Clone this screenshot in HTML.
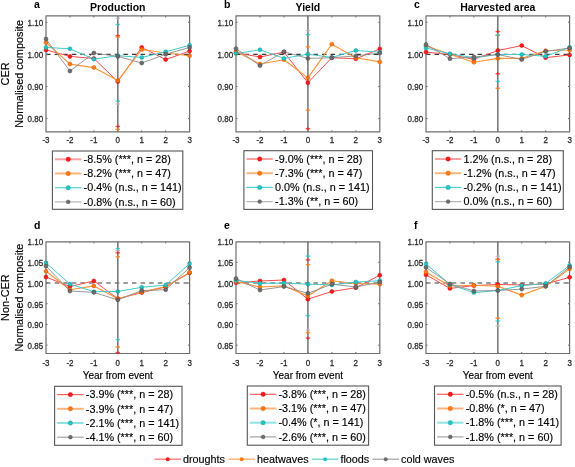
<!DOCTYPE html>
<html><head><meta charset="utf-8"><style>
html,body{margin:0;padding:0;background:#fff;width:575px;height:467px;overflow:hidden}
svg{display:block;font-family:"Liberation Sans", sans-serif;filter:blur(0.35px)}
</style></head><body>
<svg width="575" height="467" viewBox="0 0 575 467">
<rect width="575" height="467" fill="#fff"/>
<rect x="46.0" y="15.9" width="143.60" height="116.00" fill="none" stroke="#6e6e6e" stroke-width="1.2" stroke-linejoin="round"/>
<line x1="69.93" y1="15.9" x2="69.93" y2="17.5" stroke="#6e6e6e" stroke-width="1"/>
<line x1="69.93" y1="131.9" x2="69.93" y2="130.3" stroke="#6e6e6e" stroke-width="1"/>
<line x1="93.87" y1="15.9" x2="93.87" y2="17.5" stroke="#6e6e6e" stroke-width="1"/>
<line x1="93.87" y1="131.9" x2="93.87" y2="130.3" stroke="#6e6e6e" stroke-width="1"/>
<line x1="117.80" y1="15.9" x2="117.80" y2="17.5" stroke="#6e6e6e" stroke-width="1"/>
<line x1="117.80" y1="131.9" x2="117.80" y2="130.3" stroke="#6e6e6e" stroke-width="1"/>
<line x1="141.73" y1="15.9" x2="141.73" y2="17.5" stroke="#6e6e6e" stroke-width="1"/>
<line x1="141.73" y1="131.9" x2="141.73" y2="130.3" stroke="#6e6e6e" stroke-width="1"/>
<line x1="165.67" y1="15.9" x2="165.67" y2="17.5" stroke="#6e6e6e" stroke-width="1"/>
<line x1="165.67" y1="131.9" x2="165.67" y2="130.3" stroke="#6e6e6e" stroke-width="1"/>
<line x1="46.0" y1="54.40" x2="189.6" y2="54.40" stroke="#383838" stroke-width="1.2" stroke-dasharray="4.5 4.1"/>
<line x1="117.80" y1="15.9" x2="117.80" y2="131.9" stroke="#848484" stroke-width="1.5"/>
<polyline points="46.00,49.9 69.93,56.4 93.87,58.5 117.80,81.6 141.73,47.4 165.67,59.6 189.60,51.1" fill="none" stroke="#ff4a4a" stroke-width="1.0" stroke-linejoin="round"/>
<polyline points="46.00,42.5 69.93,64.1 93.87,67.6 117.80,80.6 141.73,49.5 165.67,53.0 189.60,55.7" fill="none" stroke="#ff9438" stroke-width="1.15" stroke-linejoin="round"/>
<polyline points="46.00,47.4 69.93,48.8 93.87,59.2 117.80,55.7 141.73,57.4 165.67,51.8 189.60,45.3" fill="none" stroke="#40cccc" stroke-width="1.0" stroke-linejoin="round"/>
<polyline points="46.00,39.0 69.93,71.0 93.87,53.0 117.80,56.4 141.73,63.0 165.67,54.3 189.60,47.4" fill="none" stroke="#8c8c8c" stroke-width="0.9" stroke-linejoin="round"/>
<circle cx="46.00" cy="49.9" r="2.0" fill="#ff1a1a" stroke="#d00000" stroke-width="0.5"/>
<circle cx="69.93" cy="56.4" r="2.0" fill="#ff1a1a" stroke="#d00000" stroke-width="0.5"/>
<circle cx="93.87" cy="58.5" r="2.0" fill="#ff1a1a" stroke="#d00000" stroke-width="0.5"/>
<circle cx="117.80" cy="81.6" r="2.0" fill="#ff1a1a" stroke="#d00000" stroke-width="0.5"/>
<circle cx="141.73" cy="47.4" r="2.0" fill="#ff1a1a" stroke="#d00000" stroke-width="0.5"/>
<circle cx="165.67" cy="59.6" r="2.0" fill="#ff1a1a" stroke="#d00000" stroke-width="0.5"/>
<circle cx="189.60" cy="51.1" r="2.0" fill="#ff1a1a" stroke="#d00000" stroke-width="0.5"/>
<circle cx="46.00" cy="42.5" r="2.0" fill="#ff7a10" stroke="#e05800" stroke-width="0.5"/>
<circle cx="69.93" cy="64.1" r="2.0" fill="#ff7a10" stroke="#e05800" stroke-width="0.5"/>
<circle cx="93.87" cy="67.6" r="2.0" fill="#ff7a10" stroke="#e05800" stroke-width="0.5"/>
<circle cx="117.80" cy="80.6" r="2.0" fill="#ff7a10" stroke="#e05800" stroke-width="0.5"/>
<circle cx="141.73" cy="49.5" r="2.0" fill="#ff7a10" stroke="#e05800" stroke-width="0.5"/>
<circle cx="165.67" cy="53.0" r="2.0" fill="#ff7a10" stroke="#e05800" stroke-width="0.5"/>
<circle cx="189.60" cy="55.7" r="2.0" fill="#ff7a10" stroke="#e05800" stroke-width="0.5"/>
<circle cx="46.00" cy="47.4" r="2.0" fill="#22c4c4" stroke="#12a0a0" stroke-width="0.5"/>
<circle cx="69.93" cy="48.8" r="2.0" fill="#22c4c4" stroke="#12a0a0" stroke-width="0.5"/>
<circle cx="93.87" cy="59.2" r="2.0" fill="#22c4c4" stroke="#12a0a0" stroke-width="0.5"/>
<circle cx="117.80" cy="55.7" r="2.0" fill="#22c4c4" stroke="#12a0a0" stroke-width="0.5"/>
<circle cx="141.73" cy="57.4" r="2.0" fill="#22c4c4" stroke="#12a0a0" stroke-width="0.5"/>
<circle cx="165.67" cy="51.8" r="2.0" fill="#22c4c4" stroke="#12a0a0" stroke-width="0.5"/>
<circle cx="189.60" cy="45.3" r="2.0" fill="#22c4c4" stroke="#12a0a0" stroke-width="0.5"/>
<circle cx="46.00" cy="39.0" r="2.0" fill="#6e6e6e" stroke="#454545" stroke-width="0.5"/>
<circle cx="69.93" cy="71.0" r="2.0" fill="#6e6e6e" stroke="#454545" stroke-width="0.5"/>
<circle cx="93.87" cy="53.0" r="2.0" fill="#6e6e6e" stroke="#454545" stroke-width="0.5"/>
<circle cx="117.80" cy="56.4" r="2.0" fill="#6e6e6e" stroke="#454545" stroke-width="0.5"/>
<circle cx="141.73" cy="63.0" r="2.0" fill="#6e6e6e" stroke="#454545" stroke-width="0.5"/>
<circle cx="165.67" cy="54.3" r="2.0" fill="#6e6e6e" stroke="#454545" stroke-width="0.5"/>
<circle cx="189.60" cy="47.4" r="2.0" fill="#6e6e6e" stroke="#454545" stroke-width="0.5"/>
<line x1="117.80" y1="15.9" x2="117.80" y2="131.9" stroke="#404040" stroke-width="1.0" opacity="0.3"/>
<line x1="115.50" y1="35.7" x2="120.10" y2="35.7" stroke="#ff1a1a" stroke-width="1.4" opacity="0.75"/>
<line x1="117.80" y1="34.1" x2="117.80" y2="37.300000000000004" stroke="#ff1a1a" stroke-width="1.3" opacity="0.6"/>
<line x1="115.50" y1="37.0" x2="120.10" y2="37.0" stroke="#ff7a10" stroke-width="1.4" opacity="0.75"/>
<line x1="117.80" y1="35.4" x2="117.80" y2="38.6" stroke="#ff7a10" stroke-width="1.3" opacity="0.6"/>
<line x1="115.50" y1="24.5" x2="120.10" y2="24.5" stroke="#22c4c4" stroke-width="1.4" opacity="0.75"/>
<line x1="117.80" y1="22.9" x2="117.80" y2="26.1" stroke="#22c4c4" stroke-width="1.3" opacity="0.6"/>
<line x1="115.50" y1="18.4" x2="120.10" y2="18.4" stroke="#b4b4b4" stroke-width="1.4" opacity="0.75"/>
<line x1="117.80" y1="16.799999999999997" x2="117.80" y2="20.0" stroke="#b4b4b4" stroke-width="1.3" opacity="0.6"/>
<line x1="115.50" y1="101.1" x2="120.10" y2="101.1" stroke="#22c4c4" stroke-width="1.4" opacity="0.75"/>
<line x1="117.80" y1="99.5" x2="117.80" y2="102.69999999999999" stroke="#22c4c4" stroke-width="1.3" opacity="0.6"/>
<line x1="115.50" y1="104.0" x2="120.10" y2="104.0" stroke="#b4b4b4" stroke-width="1.4" opacity="0.75"/>
<line x1="117.80" y1="102.4" x2="117.80" y2="105.6" stroke="#b4b4b4" stroke-width="1.3" opacity="0.6"/>
<line x1="115.50" y1="126.4" x2="120.10" y2="126.4" stroke="#ff1a1a" stroke-width="1.4" opacity="0.75"/>
<line x1="117.80" y1="124.80000000000001" x2="117.80" y2="128.0" stroke="#ff1a1a" stroke-width="1.3" opacity="0.6"/>
<line x1="115.50" y1="129.3" x2="120.10" y2="129.3" stroke="#ff7a10" stroke-width="1.4" opacity="0.75"/>
<line x1="117.80" y1="127.70000000000002" x2="117.80" y2="130.9" stroke="#ff7a10" stroke-width="1.3" opacity="0.6"/>
<line x1="46.0" y1="22.30" x2="47.6" y2="22.30" stroke="#6e6e6e" stroke-width="1"/>
<line x1="189.6" y1="22.30" x2="188.0" y2="22.30" stroke="#6e6e6e" stroke-width="1"/>
<text transform="translate(43.10 26.08) scale(0.85 1)" font-size="9.4" text-anchor="end" fill="#2a2a2a" stroke="#2a2a2a" stroke-width="0.3">1.10</text>
<line x1="46.0" y1="54.40" x2="47.6" y2="54.40" stroke="#6e6e6e" stroke-width="1"/>
<line x1="189.6" y1="54.40" x2="188.0" y2="54.40" stroke="#6e6e6e" stroke-width="1"/>
<text transform="translate(43.10 58.18) scale(0.85 1)" font-size="9.4" text-anchor="end" fill="#2a2a2a" stroke="#2a2a2a" stroke-width="0.3">1.00</text>
<line x1="46.0" y1="86.50" x2="47.6" y2="86.50" stroke="#6e6e6e" stroke-width="1"/>
<line x1="189.6" y1="86.50" x2="188.0" y2="86.50" stroke="#6e6e6e" stroke-width="1"/>
<text transform="translate(43.10 90.28) scale(0.85 1)" font-size="9.4" text-anchor="end" fill="#2a2a2a" stroke="#2a2a2a" stroke-width="0.3">0.90</text>
<line x1="46.0" y1="118.60" x2="47.6" y2="118.60" stroke="#6e6e6e" stroke-width="1"/>
<line x1="189.6" y1="118.60" x2="188.0" y2="118.60" stroke="#6e6e6e" stroke-width="1"/>
<text transform="translate(43.10 122.38) scale(0.85 1)" font-size="9.4" text-anchor="end" fill="#2a2a2a" stroke="#2a2a2a" stroke-width="0.3">0.80</text>
<text transform="translate(46.00 143.08) scale(0.85 1)" font-size="9.4" text-anchor="middle" fill="#2a2a2a" stroke="#2a2a2a" stroke-width="0.3">-3</text>
<text transform="translate(69.93 143.08) scale(0.85 1)" font-size="9.4" text-anchor="middle" fill="#2a2a2a" stroke="#2a2a2a" stroke-width="0.3">-2</text>
<text transform="translate(93.87 143.08) scale(0.85 1)" font-size="9.4" text-anchor="middle" fill="#2a2a2a" stroke="#2a2a2a" stroke-width="0.3">-1</text>
<text transform="translate(117.80 143.08) scale(0.85 1)" font-size="9.4" text-anchor="middle" fill="#2a2a2a" stroke="#2a2a2a" stroke-width="0.3">0</text>
<text transform="translate(141.73 143.08) scale(0.85 1)" font-size="9.4" text-anchor="middle" fill="#2a2a2a" stroke="#2a2a2a" stroke-width="0.3">1</text>
<text transform="translate(165.67 143.08) scale(0.85 1)" font-size="9.4" text-anchor="middle" fill="#2a2a2a" stroke="#2a2a2a" stroke-width="0.3">2</text>
<text transform="translate(189.60 143.08) scale(0.85 1)" font-size="9.4" text-anchor="middle" fill="#2a2a2a" stroke="#2a2a2a" stroke-width="0.3">3</text>
<text x="23.0" y="73.9" font-size="10.9" text-anchor="middle" font-weight="normal" fill="#000" stroke="#000" stroke-width="0.15" transform="rotate(-90 23.0 73.9)">Normalised composite</text>
<text x="9.4" y="73.9" font-size="10.9" text-anchor="middle" font-weight="normal" fill="#000" stroke="#000" stroke-width="0.15" transform="rotate(-90 9.4 73.9)">CER</text>
<text x="34.0" y="8.4" font-size="10.5" text-anchor="start" font-weight="bold" fill="#000">a</text>
<text x="117.8" y="11.3" font-size="10.5" text-anchor="middle" font-weight="bold" fill="#000">Production</text>
<rect x="52.4" y="151.0" width="130.40" height="58.30" fill="#fff" stroke="#555" stroke-width="1.1"/>
<line x1="55.0" y1="159.30" x2="81.4" y2="159.30" stroke="#ffa0a0" stroke-width="2.0"/>
<circle cx="68.2" cy="159.30" r="2.2" fill="#ff1a1a" stroke="#d00000" stroke-width="0.4"/>
<text x="83.6" y="163.0" font-size="10.8" text-anchor="start" font-weight="normal" fill="#000" stroke="#000" stroke-width="0.15">-8.5% (***, n = 28)</text>
<line x1="55.0" y1="173.50" x2="81.4" y2="173.50" stroke="#ffb47c" stroke-width="2.0"/>
<circle cx="68.2" cy="173.50" r="2.2" fill="#ff7a10" stroke="#e05800" stroke-width="0.4"/>
<text x="83.6" y="177.2" font-size="10.8" text-anchor="start" font-weight="normal" fill="#000" stroke="#000" stroke-width="0.15">-8.2% (***, n = 47)</text>
<line x1="55.0" y1="187.70" x2="81.4" y2="187.70" stroke="#50d2d2" stroke-width="1.2"/>
<circle cx="68.2" cy="187.70" r="2.2" fill="#22c4c4" stroke="#12a0a0" stroke-width="0.4"/>
<text x="83.6" y="191.4" font-size="10.8" text-anchor="start" font-weight="normal" fill="#000" stroke="#000" stroke-width="0.15">-0.4% (n.s., n = 141)</text>
<line x1="55.0" y1="201.90" x2="81.4" y2="201.90" stroke="#b4b4b4" stroke-width="1.2"/>
<circle cx="68.2" cy="201.90" r="1.9" fill="#6e6e6e" stroke="#454545" stroke-width="0.4"/>
<text x="83.6" y="205.6" font-size="10.8" text-anchor="start" font-weight="normal" fill="#000" stroke="#000" stroke-width="0.15">-0.8% (n.s., n = 60)</text>
<rect x="236.0" y="15.9" width="143.80" height="116.00" fill="none" stroke="#6e6e6e" stroke-width="1.2" stroke-linejoin="round"/>
<line x1="259.97" y1="15.9" x2="259.97" y2="17.5" stroke="#6e6e6e" stroke-width="1"/>
<line x1="259.97" y1="131.9" x2="259.97" y2="130.3" stroke="#6e6e6e" stroke-width="1"/>
<line x1="283.93" y1="15.9" x2="283.93" y2="17.5" stroke="#6e6e6e" stroke-width="1"/>
<line x1="283.93" y1="131.9" x2="283.93" y2="130.3" stroke="#6e6e6e" stroke-width="1"/>
<line x1="307.90" y1="15.9" x2="307.90" y2="17.5" stroke="#6e6e6e" stroke-width="1"/>
<line x1="307.90" y1="131.9" x2="307.90" y2="130.3" stroke="#6e6e6e" stroke-width="1"/>
<line x1="331.87" y1="15.9" x2="331.87" y2="17.5" stroke="#6e6e6e" stroke-width="1"/>
<line x1="331.87" y1="131.9" x2="331.87" y2="130.3" stroke="#6e6e6e" stroke-width="1"/>
<line x1="355.83" y1="15.9" x2="355.83" y2="17.5" stroke="#6e6e6e" stroke-width="1"/>
<line x1="355.83" y1="131.9" x2="355.83" y2="130.3" stroke="#6e6e6e" stroke-width="1"/>
<line x1="236.0" y1="54.40" x2="379.8" y2="54.40" stroke="#383838" stroke-width="1.2" stroke-dasharray="4.5 4.1"/>
<line x1="307.90" y1="15.9" x2="307.90" y2="131.9" stroke="#848484" stroke-width="1.5"/>
<polyline points="236.00,52.8 259.97,57.0 283.93,52.1 307.90,82.7 331.87,57.7 355.83,58.8 379.80,48.9" fill="none" stroke="#ff4a4a" stroke-width="1.0" stroke-linejoin="round"/>
<polyline points="236.00,51.4 259.97,64.0 283.93,59.8 307.90,77.9 331.87,44.2 355.83,57.7 379.80,61.9" fill="none" stroke="#ff9438" stroke-width="1.15" stroke-linejoin="round"/>
<polyline points="236.00,53.5 259.97,49.8 283.93,58.4 307.90,54.2 331.87,57.4 355.83,50.5 379.80,52.1" fill="none" stroke="#40cccc" stroke-width="1.0" stroke-linejoin="round"/>
<polyline points="236.00,48.7 259.97,65.6 283.93,51.7 307.90,58.4 331.87,57.7 355.83,55.9 379.80,53.0" fill="none" stroke="#8c8c8c" stroke-width="0.9" stroke-linejoin="round"/>
<circle cx="236.00" cy="52.8" r="2.0" fill="#ff1a1a" stroke="#d00000" stroke-width="0.5"/>
<circle cx="259.97" cy="57.0" r="2.0" fill="#ff1a1a" stroke="#d00000" stroke-width="0.5"/>
<circle cx="283.93" cy="52.1" r="2.0" fill="#ff1a1a" stroke="#d00000" stroke-width="0.5"/>
<circle cx="307.90" cy="82.7" r="2.0" fill="#ff1a1a" stroke="#d00000" stroke-width="0.5"/>
<circle cx="331.87" cy="57.7" r="2.0" fill="#ff1a1a" stroke="#d00000" stroke-width="0.5"/>
<circle cx="355.83" cy="58.8" r="2.0" fill="#ff1a1a" stroke="#d00000" stroke-width="0.5"/>
<circle cx="379.80" cy="48.9" r="2.0" fill="#ff1a1a" stroke="#d00000" stroke-width="0.5"/>
<circle cx="236.00" cy="51.4" r="2.0" fill="#ff7a10" stroke="#e05800" stroke-width="0.5"/>
<circle cx="259.97" cy="64.0" r="2.0" fill="#ff7a10" stroke="#e05800" stroke-width="0.5"/>
<circle cx="283.93" cy="59.8" r="2.0" fill="#ff7a10" stroke="#e05800" stroke-width="0.5"/>
<circle cx="307.90" cy="77.9" r="2.0" fill="#ff7a10" stroke="#e05800" stroke-width="0.5"/>
<circle cx="331.87" cy="44.2" r="2.0" fill="#ff7a10" stroke="#e05800" stroke-width="0.5"/>
<circle cx="355.83" cy="57.7" r="2.0" fill="#ff7a10" stroke="#e05800" stroke-width="0.5"/>
<circle cx="379.80" cy="61.9" r="2.0" fill="#ff7a10" stroke="#e05800" stroke-width="0.5"/>
<circle cx="236.00" cy="53.5" r="2.0" fill="#22c4c4" stroke="#12a0a0" stroke-width="0.5"/>
<circle cx="259.97" cy="49.8" r="2.0" fill="#22c4c4" stroke="#12a0a0" stroke-width="0.5"/>
<circle cx="283.93" cy="58.4" r="2.0" fill="#22c4c4" stroke="#12a0a0" stroke-width="0.5"/>
<circle cx="307.90" cy="54.2" r="2.0" fill="#22c4c4" stroke="#12a0a0" stroke-width="0.5"/>
<circle cx="331.87" cy="57.4" r="2.0" fill="#22c4c4" stroke="#12a0a0" stroke-width="0.5"/>
<circle cx="355.83" cy="50.5" r="2.0" fill="#22c4c4" stroke="#12a0a0" stroke-width="0.5"/>
<circle cx="379.80" cy="52.1" r="2.0" fill="#22c4c4" stroke="#12a0a0" stroke-width="0.5"/>
<circle cx="236.00" cy="48.7" r="2.0" fill="#6e6e6e" stroke="#454545" stroke-width="0.5"/>
<circle cx="259.97" cy="65.6" r="2.0" fill="#6e6e6e" stroke="#454545" stroke-width="0.5"/>
<circle cx="283.93" cy="51.7" r="2.0" fill="#6e6e6e" stroke="#454545" stroke-width="0.5"/>
<circle cx="307.90" cy="58.4" r="2.0" fill="#6e6e6e" stroke="#454545" stroke-width="0.5"/>
<circle cx="331.87" cy="57.7" r="2.0" fill="#6e6e6e" stroke="#454545" stroke-width="0.5"/>
<circle cx="355.83" cy="55.9" r="2.0" fill="#6e6e6e" stroke="#454545" stroke-width="0.5"/>
<circle cx="379.80" cy="53.0" r="2.0" fill="#6e6e6e" stroke="#454545" stroke-width="0.5"/>
<line x1="307.90" y1="15.9" x2="307.90" y2="131.9" stroke="#404040" stroke-width="1.0" opacity="0.3"/>
<line x1="305.60" y1="30.6" x2="310.20" y2="30.6" stroke="#b4b4b4" stroke-width="1.4" opacity="0.75"/>
<line x1="307.90" y1="29.0" x2="307.90" y2="32.2" stroke="#b4b4b4" stroke-width="1.3" opacity="0.6"/>
<line x1="305.60" y1="34.7" x2="310.20" y2="34.7" stroke="#22c4c4" stroke-width="1.4" opacity="0.75"/>
<line x1="307.90" y1="33.1" x2="307.90" y2="36.300000000000004" stroke="#22c4c4" stroke-width="1.3" opacity="0.6"/>
<line x1="305.60" y1="46.8" x2="310.20" y2="46.8" stroke="#ff7a10" stroke-width="1.4" opacity="0.75"/>
<line x1="307.90" y1="45.199999999999996" x2="307.90" y2="48.4" stroke="#ff7a10" stroke-width="1.3" opacity="0.6"/>
<line x1="305.60" y1="110.2" x2="310.20" y2="110.2" stroke="#ff7a10" stroke-width="1.4" opacity="0.75"/>
<line x1="307.90" y1="108.60000000000001" x2="307.90" y2="111.8" stroke="#ff7a10" stroke-width="1.3" opacity="0.6"/>
<line x1="305.60" y1="128.7" x2="310.20" y2="128.7" stroke="#ff1a1a" stroke-width="1.4" opacity="0.75"/>
<line x1="307.90" y1="127.1" x2="307.90" y2="130.29999999999998" stroke="#ff1a1a" stroke-width="1.3" opacity="0.6"/>
<line x1="236.0" y1="22.30" x2="237.6" y2="22.30" stroke="#6e6e6e" stroke-width="1"/>
<line x1="379.8" y1="22.30" x2="378.2" y2="22.30" stroke="#6e6e6e" stroke-width="1"/>
<text transform="translate(233.10 26.08) scale(0.85 1)" font-size="9.4" text-anchor="end" fill="#2a2a2a" stroke="#2a2a2a" stroke-width="0.3">1.10</text>
<line x1="236.0" y1="54.40" x2="237.6" y2="54.40" stroke="#6e6e6e" stroke-width="1"/>
<line x1="379.8" y1="54.40" x2="378.2" y2="54.40" stroke="#6e6e6e" stroke-width="1"/>
<text transform="translate(233.10 58.18) scale(0.85 1)" font-size="9.4" text-anchor="end" fill="#2a2a2a" stroke="#2a2a2a" stroke-width="0.3">1.00</text>
<line x1="236.0" y1="86.50" x2="237.6" y2="86.50" stroke="#6e6e6e" stroke-width="1"/>
<line x1="379.8" y1="86.50" x2="378.2" y2="86.50" stroke="#6e6e6e" stroke-width="1"/>
<text transform="translate(233.10 90.28) scale(0.85 1)" font-size="9.4" text-anchor="end" fill="#2a2a2a" stroke="#2a2a2a" stroke-width="0.3">0.90</text>
<line x1="236.0" y1="118.60" x2="237.6" y2="118.60" stroke="#6e6e6e" stroke-width="1"/>
<line x1="379.8" y1="118.60" x2="378.2" y2="118.60" stroke="#6e6e6e" stroke-width="1"/>
<text transform="translate(233.10 122.38) scale(0.85 1)" font-size="9.4" text-anchor="end" fill="#2a2a2a" stroke="#2a2a2a" stroke-width="0.3">0.80</text>
<text transform="translate(236.00 143.08) scale(0.85 1)" font-size="9.4" text-anchor="middle" fill="#2a2a2a" stroke="#2a2a2a" stroke-width="0.3">-3</text>
<text transform="translate(259.97 143.08) scale(0.85 1)" font-size="9.4" text-anchor="middle" fill="#2a2a2a" stroke="#2a2a2a" stroke-width="0.3">-2</text>
<text transform="translate(283.93 143.08) scale(0.85 1)" font-size="9.4" text-anchor="middle" fill="#2a2a2a" stroke="#2a2a2a" stroke-width="0.3">-1</text>
<text transform="translate(307.90 143.08) scale(0.85 1)" font-size="9.4" text-anchor="middle" fill="#2a2a2a" stroke="#2a2a2a" stroke-width="0.3">0</text>
<text transform="translate(331.87 143.08) scale(0.85 1)" font-size="9.4" text-anchor="middle" fill="#2a2a2a" stroke="#2a2a2a" stroke-width="0.3">1</text>
<text transform="translate(355.83 143.08) scale(0.85 1)" font-size="9.4" text-anchor="middle" fill="#2a2a2a" stroke="#2a2a2a" stroke-width="0.3">2</text>
<text transform="translate(379.80 143.08) scale(0.85 1)" font-size="9.4" text-anchor="middle" fill="#2a2a2a" stroke="#2a2a2a" stroke-width="0.3">3</text>
<text x="224.0" y="8.4" font-size="10.5" text-anchor="start" font-weight="bold" fill="#000">b</text>
<text x="307.9" y="11.3" font-size="10.5" text-anchor="middle" font-weight="bold" fill="#000">Yield</text>
<rect x="243.9" y="150.7" width="128.60" height="58.70" fill="#fff" stroke="#555" stroke-width="1.1"/>
<line x1="246.5" y1="159.00" x2="272.9" y2="159.00" stroke="#ffa0a0" stroke-width="2.0"/>
<circle cx="259.7" cy="159.00" r="2.2" fill="#ff1a1a" stroke="#d00000" stroke-width="0.4"/>
<text x="275.1" y="162.7" font-size="10.8" text-anchor="start" font-weight="normal" fill="#000" stroke="#000" stroke-width="0.15">-9.0% (***, n = 28)</text>
<line x1="246.5" y1="173.20" x2="272.9" y2="173.20" stroke="#ffb47c" stroke-width="2.0"/>
<circle cx="259.7" cy="173.20" r="2.2" fill="#ff7a10" stroke="#e05800" stroke-width="0.4"/>
<text x="275.1" y="176.89999999999998" font-size="10.8" text-anchor="start" font-weight="normal" fill="#000" stroke="#000" stroke-width="0.15">-7.3% (***, n = 47)</text>
<line x1="246.5" y1="187.40" x2="272.9" y2="187.40" stroke="#50d2d2" stroke-width="1.2"/>
<circle cx="259.7" cy="187.40" r="2.2" fill="#22c4c4" stroke="#12a0a0" stroke-width="0.4"/>
<text x="275.1" y="191.1" font-size="10.8" text-anchor="start" font-weight="normal" fill="#000" stroke="#000" stroke-width="0.15">0.0% (n.s., n = 141)</text>
<line x1="246.5" y1="201.60" x2="272.9" y2="201.60" stroke="#b4b4b4" stroke-width="1.2"/>
<circle cx="259.7" cy="201.60" r="1.9" fill="#6e6e6e" stroke="#454545" stroke-width="0.4"/>
<text x="275.1" y="205.29999999999998" font-size="10.8" text-anchor="start" font-weight="normal" fill="#000" stroke="#000" stroke-width="0.15">-1.3% (**, n = 60)</text>
<rect x="426.0" y="15.9" width="143.60" height="116.00" fill="none" stroke="#6e6e6e" stroke-width="1.2" stroke-linejoin="round"/>
<line x1="449.93" y1="15.9" x2="449.93" y2="17.5" stroke="#6e6e6e" stroke-width="1"/>
<line x1="449.93" y1="131.9" x2="449.93" y2="130.3" stroke="#6e6e6e" stroke-width="1"/>
<line x1="473.87" y1="15.9" x2="473.87" y2="17.5" stroke="#6e6e6e" stroke-width="1"/>
<line x1="473.87" y1="131.9" x2="473.87" y2="130.3" stroke="#6e6e6e" stroke-width="1"/>
<line x1="497.80" y1="15.9" x2="497.80" y2="17.5" stroke="#6e6e6e" stroke-width="1"/>
<line x1="497.80" y1="131.9" x2="497.80" y2="130.3" stroke="#6e6e6e" stroke-width="1"/>
<line x1="521.73" y1="15.9" x2="521.73" y2="17.5" stroke="#6e6e6e" stroke-width="1"/>
<line x1="521.73" y1="131.9" x2="521.73" y2="130.3" stroke="#6e6e6e" stroke-width="1"/>
<line x1="545.67" y1="15.9" x2="545.67" y2="17.5" stroke="#6e6e6e" stroke-width="1"/>
<line x1="545.67" y1="131.9" x2="545.67" y2="130.3" stroke="#6e6e6e" stroke-width="1"/>
<line x1="426.0" y1="54.40" x2="569.6" y2="54.40" stroke="#383838" stroke-width="1.2" stroke-dasharray="4.5 4.1"/>
<line x1="497.80" y1="15.9" x2="497.80" y2="131.9" stroke="#848484" stroke-width="1.5"/>
<polyline points="426.00,52.1 449.93,54.5 473.87,59.3 497.80,50.5 521.73,45.6 545.67,57.7 569.60,54.9" fill="none" stroke="#ff4a4a" stroke-width="1.0" stroke-linejoin="round"/>
<polyline points="426.00,45.9 449.93,54.2 473.87,62.3 497.80,58.4 521.73,58.4 545.67,50.7 569.60,50.0" fill="none" stroke="#ff9438" stroke-width="1.15" stroke-linejoin="round"/>
<polyline points="426.00,48.0 449.93,53.8 473.87,57.7 497.80,54.5 521.73,54.5 545.67,56.3 569.60,47.3" fill="none" stroke="#40cccc" stroke-width="1.0" stroke-linejoin="round"/>
<polyline points="426.00,44.5 449.93,58.7 473.87,57.0 497.80,54.5 521.73,59.5 545.67,51.4 569.60,48.0" fill="none" stroke="#8c8c8c" stroke-width="0.9" stroke-linejoin="round"/>
<circle cx="426.00" cy="52.1" r="2.0" fill="#ff1a1a" stroke="#d00000" stroke-width="0.5"/>
<circle cx="449.93" cy="54.5" r="2.0" fill="#ff1a1a" stroke="#d00000" stroke-width="0.5"/>
<circle cx="473.87" cy="59.3" r="2.0" fill="#ff1a1a" stroke="#d00000" stroke-width="0.5"/>
<circle cx="497.80" cy="50.5" r="2.0" fill="#ff1a1a" stroke="#d00000" stroke-width="0.5"/>
<circle cx="521.73" cy="45.6" r="2.0" fill="#ff1a1a" stroke="#d00000" stroke-width="0.5"/>
<circle cx="545.67" cy="57.7" r="2.0" fill="#ff1a1a" stroke="#d00000" stroke-width="0.5"/>
<circle cx="569.60" cy="54.9" r="2.0" fill="#ff1a1a" stroke="#d00000" stroke-width="0.5"/>
<circle cx="426.00" cy="45.9" r="2.0" fill="#ff7a10" stroke="#e05800" stroke-width="0.5"/>
<circle cx="449.93" cy="54.2" r="2.0" fill="#ff7a10" stroke="#e05800" stroke-width="0.5"/>
<circle cx="473.87" cy="62.3" r="2.0" fill="#ff7a10" stroke="#e05800" stroke-width="0.5"/>
<circle cx="497.80" cy="58.4" r="2.0" fill="#ff7a10" stroke="#e05800" stroke-width="0.5"/>
<circle cx="521.73" cy="58.4" r="2.0" fill="#ff7a10" stroke="#e05800" stroke-width="0.5"/>
<circle cx="545.67" cy="50.7" r="2.0" fill="#ff7a10" stroke="#e05800" stroke-width="0.5"/>
<circle cx="569.60" cy="50.0" r="2.0" fill="#ff7a10" stroke="#e05800" stroke-width="0.5"/>
<circle cx="426.00" cy="48.0" r="2.0" fill="#22c4c4" stroke="#12a0a0" stroke-width="0.5"/>
<circle cx="449.93" cy="53.8" r="2.0" fill="#22c4c4" stroke="#12a0a0" stroke-width="0.5"/>
<circle cx="473.87" cy="57.7" r="2.0" fill="#22c4c4" stroke="#12a0a0" stroke-width="0.5"/>
<circle cx="497.80" cy="54.5" r="2.0" fill="#22c4c4" stroke="#12a0a0" stroke-width="0.5"/>
<circle cx="521.73" cy="54.5" r="2.0" fill="#22c4c4" stroke="#12a0a0" stroke-width="0.5"/>
<circle cx="545.67" cy="56.3" r="2.0" fill="#22c4c4" stroke="#12a0a0" stroke-width="0.5"/>
<circle cx="569.60" cy="47.3" r="2.0" fill="#22c4c4" stroke="#12a0a0" stroke-width="0.5"/>
<circle cx="426.00" cy="44.5" r="2.0" fill="#6e6e6e" stroke="#454545" stroke-width="0.5"/>
<circle cx="449.93" cy="58.7" r="2.0" fill="#6e6e6e" stroke="#454545" stroke-width="0.5"/>
<circle cx="473.87" cy="57.0" r="2.0" fill="#6e6e6e" stroke="#454545" stroke-width="0.5"/>
<circle cx="497.80" cy="54.5" r="2.0" fill="#6e6e6e" stroke="#454545" stroke-width="0.5"/>
<circle cx="521.73" cy="59.5" r="2.0" fill="#6e6e6e" stroke="#454545" stroke-width="0.5"/>
<circle cx="545.67" cy="51.4" r="2.0" fill="#6e6e6e" stroke="#454545" stroke-width="0.5"/>
<circle cx="569.60" cy="48.0" r="2.0" fill="#6e6e6e" stroke="#454545" stroke-width="0.5"/>
<line x1="497.80" y1="15.9" x2="497.80" y2="131.9" stroke="#404040" stroke-width="1.0" opacity="0.3"/>
<line x1="495.50" y1="31.6" x2="500.10" y2="31.6" stroke="#ff1a1a" stroke-width="1.4" opacity="0.75"/>
<line x1="497.80" y1="30.0" x2="497.80" y2="33.2" stroke="#ff1a1a" stroke-width="1.3" opacity="0.6"/>
<line x1="495.50" y1="35.4" x2="500.10" y2="35.4" stroke="#ff7a10" stroke-width="1.4" opacity="0.75"/>
<line x1="497.80" y1="33.8" x2="497.80" y2="37.0" stroke="#ff7a10" stroke-width="1.3" opacity="0.6"/>
<line x1="495.50" y1="35.0" x2="500.10" y2="35.0" stroke="#22c4c4" stroke-width="1.4" opacity="0.75"/>
<line x1="497.80" y1="33.4" x2="497.80" y2="36.6" stroke="#22c4c4" stroke-width="1.3" opacity="0.6"/>
<line x1="495.50" y1="73.7" x2="500.10" y2="73.7" stroke="#ff1a1a" stroke-width="1.4" opacity="0.75"/>
<line x1="497.80" y1="72.10000000000001" x2="497.80" y2="75.3" stroke="#ff1a1a" stroke-width="1.3" opacity="0.6"/>
<line x1="495.50" y1="81.4" x2="500.10" y2="81.4" stroke="#22c4c4" stroke-width="1.4" opacity="0.75"/>
<line x1="497.80" y1="79.80000000000001" x2="497.80" y2="83.0" stroke="#22c4c4" stroke-width="1.3" opacity="0.6"/>
<line x1="495.50" y1="88.3" x2="500.10" y2="88.3" stroke="#ff7a10" stroke-width="1.4" opacity="0.75"/>
<line x1="497.80" y1="86.7" x2="497.80" y2="89.89999999999999" stroke="#ff7a10" stroke-width="1.3" opacity="0.6"/>
<line x1="426.0" y1="22.30" x2="427.6" y2="22.30" stroke="#6e6e6e" stroke-width="1"/>
<line x1="569.6" y1="22.30" x2="568.0" y2="22.30" stroke="#6e6e6e" stroke-width="1"/>
<text transform="translate(423.10 26.08) scale(0.85 1)" font-size="9.4" text-anchor="end" fill="#2a2a2a" stroke="#2a2a2a" stroke-width="0.3">1.10</text>
<line x1="426.0" y1="54.40" x2="427.6" y2="54.40" stroke="#6e6e6e" stroke-width="1"/>
<line x1="569.6" y1="54.40" x2="568.0" y2="54.40" stroke="#6e6e6e" stroke-width="1"/>
<text transform="translate(423.10 58.18) scale(0.85 1)" font-size="9.4" text-anchor="end" fill="#2a2a2a" stroke="#2a2a2a" stroke-width="0.3">1.00</text>
<line x1="426.0" y1="86.50" x2="427.6" y2="86.50" stroke="#6e6e6e" stroke-width="1"/>
<line x1="569.6" y1="86.50" x2="568.0" y2="86.50" stroke="#6e6e6e" stroke-width="1"/>
<text transform="translate(423.10 90.28) scale(0.85 1)" font-size="9.4" text-anchor="end" fill="#2a2a2a" stroke="#2a2a2a" stroke-width="0.3">0.90</text>
<line x1="426.0" y1="118.60" x2="427.6" y2="118.60" stroke="#6e6e6e" stroke-width="1"/>
<line x1="569.6" y1="118.60" x2="568.0" y2="118.60" stroke="#6e6e6e" stroke-width="1"/>
<text transform="translate(423.10 122.38) scale(0.85 1)" font-size="9.4" text-anchor="end" fill="#2a2a2a" stroke="#2a2a2a" stroke-width="0.3">0.80</text>
<text transform="translate(426.00 143.08) scale(0.85 1)" font-size="9.4" text-anchor="middle" fill="#2a2a2a" stroke="#2a2a2a" stroke-width="0.3">-3</text>
<text transform="translate(449.93 143.08) scale(0.85 1)" font-size="9.4" text-anchor="middle" fill="#2a2a2a" stroke="#2a2a2a" stroke-width="0.3">-2</text>
<text transform="translate(473.87 143.08) scale(0.85 1)" font-size="9.4" text-anchor="middle" fill="#2a2a2a" stroke="#2a2a2a" stroke-width="0.3">-1</text>
<text transform="translate(497.80 143.08) scale(0.85 1)" font-size="9.4" text-anchor="middle" fill="#2a2a2a" stroke="#2a2a2a" stroke-width="0.3">0</text>
<text transform="translate(521.73 143.08) scale(0.85 1)" font-size="9.4" text-anchor="middle" fill="#2a2a2a" stroke="#2a2a2a" stroke-width="0.3">1</text>
<text transform="translate(545.67 143.08) scale(0.85 1)" font-size="9.4" text-anchor="middle" fill="#2a2a2a" stroke="#2a2a2a" stroke-width="0.3">2</text>
<text transform="translate(569.60 143.08) scale(0.85 1)" font-size="9.4" text-anchor="middle" fill="#2a2a2a" stroke="#2a2a2a" stroke-width="0.3">3</text>
<text x="414.0" y="8.4" font-size="10.5" text-anchor="start" font-weight="bold" fill="#000">c</text>
<text x="497.8" y="11.3" font-size="10.5" text-anchor="middle" font-weight="bold" fill="#000">Harvested area</text>
<rect x="432.3" y="150.7" width="131.00" height="58.70" fill="#fff" stroke="#555" stroke-width="1.1"/>
<line x1="434.90000000000003" y1="159.00" x2="461.3" y2="159.00" stroke="#ffa0a0" stroke-width="2.0"/>
<circle cx="448.1" cy="159.00" r="2.2" fill="#ff1a1a" stroke="#d00000" stroke-width="0.4"/>
<text x="463.5" y="162.7" font-size="10.8" text-anchor="start" font-weight="normal" fill="#000" stroke="#000" stroke-width="0.15">1.2% (n.s., n = 28)</text>
<line x1="434.90000000000003" y1="173.20" x2="461.3" y2="173.20" stroke="#ffb47c" stroke-width="2.0"/>
<circle cx="448.1" cy="173.20" r="2.2" fill="#ff7a10" stroke="#e05800" stroke-width="0.4"/>
<text x="463.5" y="176.89999999999998" font-size="10.8" text-anchor="start" font-weight="normal" fill="#000" stroke="#000" stroke-width="0.15">-1.2% (n.s., n = 47)</text>
<line x1="434.90000000000003" y1="187.40" x2="461.3" y2="187.40" stroke="#50d2d2" stroke-width="1.2"/>
<circle cx="448.1" cy="187.40" r="2.2" fill="#22c4c4" stroke="#12a0a0" stroke-width="0.4"/>
<text x="463.5" y="191.1" font-size="10.8" text-anchor="start" font-weight="normal" fill="#000" stroke="#000" stroke-width="0.15">-0.2% (n.s., n = 141)</text>
<line x1="434.90000000000003" y1="201.60" x2="461.3" y2="201.60" stroke="#b4b4b4" stroke-width="1.2"/>
<circle cx="448.1" cy="201.60" r="1.9" fill="#6e6e6e" stroke="#454545" stroke-width="0.4"/>
<text x="463.5" y="205.29999999999998" font-size="10.8" text-anchor="start" font-weight="normal" fill="#000" stroke="#000" stroke-width="0.15">0.0% (n.s., n = 60)</text>
<rect x="46.0" y="241.8" width="143.60" height="111.70" fill="none" stroke="#6e6e6e" stroke-width="1.2" stroke-linejoin="round"/>
<line x1="69.93" y1="241.8" x2="69.93" y2="243.4" stroke="#6e6e6e" stroke-width="1"/>
<line x1="69.93" y1="353.5" x2="69.93" y2="351.9" stroke="#6e6e6e" stroke-width="1"/>
<line x1="93.87" y1="241.8" x2="93.87" y2="243.4" stroke="#6e6e6e" stroke-width="1"/>
<line x1="93.87" y1="353.5" x2="93.87" y2="351.9" stroke="#6e6e6e" stroke-width="1"/>
<line x1="117.80" y1="241.8" x2="117.80" y2="243.4" stroke="#6e6e6e" stroke-width="1"/>
<line x1="117.80" y1="353.5" x2="117.80" y2="351.9" stroke="#6e6e6e" stroke-width="1"/>
<line x1="141.73" y1="241.8" x2="141.73" y2="243.4" stroke="#6e6e6e" stroke-width="1"/>
<line x1="141.73" y1="353.5" x2="141.73" y2="351.9" stroke="#6e6e6e" stroke-width="1"/>
<line x1="165.67" y1="241.8" x2="165.67" y2="243.4" stroke="#6e6e6e" stroke-width="1"/>
<line x1="165.67" y1="353.5" x2="165.67" y2="351.9" stroke="#6e6e6e" stroke-width="1"/>
<line x1="46.0" y1="283.00" x2="189.6" y2="283.00" stroke="#383838" stroke-width="1.2" stroke-dasharray="4.5 4.1"/>
<line x1="117.80" y1="241.8" x2="117.80" y2="353.5" stroke="#848484" stroke-width="1.5"/>
<polyline points="46.00,277.1 69.93,286.5 93.87,280.9 117.80,298.7 141.73,292.6 165.67,287.0 189.60,272.8" fill="none" stroke="#ff4a4a" stroke-width="1.0" stroke-linejoin="round"/>
<polyline points="46.00,271.3 69.93,289.7 93.87,285.9 117.80,298.7 141.73,292.0 165.67,286.5 189.60,272.4" fill="none" stroke="#ff9438" stroke-width="1.15" stroke-linejoin="round"/>
<polyline points="46.00,262.8 69.93,284.1 93.87,291.7 117.80,291.5 141.73,287.3 165.67,285.1 189.60,263.7" fill="none" stroke="#40cccc" stroke-width="1.0" stroke-linejoin="round"/>
<polyline points="46.00,266.0 69.93,291.0 93.87,292.4 117.80,299.9 141.73,290.6 165.67,289.7 189.60,267.6" fill="none" stroke="#8c8c8c" stroke-width="0.9" stroke-linejoin="round"/>
<circle cx="46.00" cy="277.1" r="2.0" fill="#ff1a1a" stroke="#d00000" stroke-width="0.5"/>
<circle cx="69.93" cy="286.5" r="2.0" fill="#ff1a1a" stroke="#d00000" stroke-width="0.5"/>
<circle cx="93.87" cy="280.9" r="2.0" fill="#ff1a1a" stroke="#d00000" stroke-width="0.5"/>
<circle cx="117.80" cy="298.7" r="2.0" fill="#ff1a1a" stroke="#d00000" stroke-width="0.5"/>
<circle cx="141.73" cy="292.6" r="2.0" fill="#ff1a1a" stroke="#d00000" stroke-width="0.5"/>
<circle cx="165.67" cy="287.0" r="2.0" fill="#ff1a1a" stroke="#d00000" stroke-width="0.5"/>
<circle cx="189.60" cy="272.8" r="2.0" fill="#ff1a1a" stroke="#d00000" stroke-width="0.5"/>
<circle cx="46.00" cy="271.3" r="2.0" fill="#ff7a10" stroke="#e05800" stroke-width="0.5"/>
<circle cx="69.93" cy="289.7" r="2.0" fill="#ff7a10" stroke="#e05800" stroke-width="0.5"/>
<circle cx="93.87" cy="285.9" r="2.0" fill="#ff7a10" stroke="#e05800" stroke-width="0.5"/>
<circle cx="117.80" cy="298.7" r="2.0" fill="#ff7a10" stroke="#e05800" stroke-width="0.5"/>
<circle cx="141.73" cy="292.0" r="2.0" fill="#ff7a10" stroke="#e05800" stroke-width="0.5"/>
<circle cx="165.67" cy="286.5" r="2.0" fill="#ff7a10" stroke="#e05800" stroke-width="0.5"/>
<circle cx="189.60" cy="272.4" r="2.0" fill="#ff7a10" stroke="#e05800" stroke-width="0.5"/>
<circle cx="46.00" cy="262.8" r="2.0" fill="#22c4c4" stroke="#12a0a0" stroke-width="0.5"/>
<circle cx="69.93" cy="284.1" r="2.0" fill="#22c4c4" stroke="#12a0a0" stroke-width="0.5"/>
<circle cx="93.87" cy="291.7" r="2.0" fill="#22c4c4" stroke="#12a0a0" stroke-width="0.5"/>
<circle cx="117.80" cy="291.5" r="2.0" fill="#22c4c4" stroke="#12a0a0" stroke-width="0.5"/>
<circle cx="141.73" cy="287.3" r="2.0" fill="#22c4c4" stroke="#12a0a0" stroke-width="0.5"/>
<circle cx="165.67" cy="285.1" r="2.0" fill="#22c4c4" stroke="#12a0a0" stroke-width="0.5"/>
<circle cx="189.60" cy="263.7" r="2.0" fill="#22c4c4" stroke="#12a0a0" stroke-width="0.5"/>
<circle cx="46.00" cy="266.0" r="2.0" fill="#6e6e6e" stroke="#454545" stroke-width="0.5"/>
<circle cx="69.93" cy="291.0" r="2.0" fill="#6e6e6e" stroke="#454545" stroke-width="0.5"/>
<circle cx="93.87" cy="292.4" r="2.0" fill="#6e6e6e" stroke="#454545" stroke-width="0.5"/>
<circle cx="117.80" cy="299.9" r="2.0" fill="#6e6e6e" stroke="#454545" stroke-width="0.5"/>
<circle cx="141.73" cy="290.6" r="2.0" fill="#6e6e6e" stroke="#454545" stroke-width="0.5"/>
<circle cx="165.67" cy="289.7" r="2.0" fill="#6e6e6e" stroke="#454545" stroke-width="0.5"/>
<circle cx="189.60" cy="267.6" r="2.0" fill="#6e6e6e" stroke="#454545" stroke-width="0.5"/>
<line x1="117.80" y1="241.8" x2="117.80" y2="353.5" stroke="#404040" stroke-width="1.0" opacity="0.3"/>
<line x1="115.50" y1="248.6" x2="120.10" y2="248.6" stroke="#22c4c4" stroke-width="1.4" opacity="0.75"/>
<line x1="117.80" y1="247.0" x2="117.80" y2="250.2" stroke="#22c4c4" stroke-width="1.3" opacity="0.6"/>
<line x1="115.50" y1="250.7" x2="120.10" y2="250.7" stroke="#b4b4b4" stroke-width="1.4" opacity="0.75"/>
<line x1="117.80" y1="249.1" x2="117.80" y2="252.29999999999998" stroke="#b4b4b4" stroke-width="1.3" opacity="0.6"/>
<line x1="115.50" y1="252.8" x2="120.10" y2="252.8" stroke="#ff1a1a" stroke-width="1.4" opacity="0.75"/>
<line x1="117.80" y1="251.20000000000002" x2="117.80" y2="254.4" stroke="#ff1a1a" stroke-width="1.3" opacity="0.6"/>
<line x1="115.50" y1="256.7" x2="120.10" y2="256.7" stroke="#ff7a10" stroke-width="1.4" opacity="0.75"/>
<line x1="117.80" y1="255.1" x2="117.80" y2="258.3" stroke="#ff7a10" stroke-width="1.3" opacity="0.6"/>
<line x1="115.50" y1="339.6" x2="120.10" y2="339.6" stroke="#22c4c4" stroke-width="1.4" opacity="0.75"/>
<line x1="117.80" y1="338.0" x2="117.80" y2="341.20000000000005" stroke="#22c4c4" stroke-width="1.3" opacity="0.6"/>
<line x1="115.50" y1="347.0" x2="120.10" y2="347.0" stroke="#ff7a10" stroke-width="1.4" opacity="0.75"/>
<line x1="117.80" y1="345.4" x2="117.80" y2="348.6" stroke="#ff7a10" stroke-width="1.3" opacity="0.6"/>
<line x1="115.50" y1="352.6" x2="120.10" y2="352.6" stroke="#ff1a1a" stroke-width="1.4" opacity="0.75"/>
<line x1="117.80" y1="351.0" x2="117.80" y2="354.20000000000005" stroke="#ff1a1a" stroke-width="1.3" opacity="0.6"/>
<text transform="translate(43.10 245.34) scale(0.85 1)" font-size="9.4" text-anchor="end" fill="#2a2a2a" stroke="#2a2a2a" stroke-width="0.3">1.10</text>
<line x1="46.0" y1="262.28" x2="47.6" y2="262.28" stroke="#6e6e6e" stroke-width="1"/>
<line x1="189.6" y1="262.28" x2="188.0" y2="262.28" stroke="#6e6e6e" stroke-width="1"/>
<text transform="translate(43.10 266.06) scale(0.85 1)" font-size="9.4" text-anchor="end" fill="#2a2a2a" stroke="#2a2a2a" stroke-width="0.3">1.05</text>
<line x1="46.0" y1="283.00" x2="47.6" y2="283.00" stroke="#6e6e6e" stroke-width="1"/>
<line x1="189.6" y1="283.00" x2="188.0" y2="283.00" stroke="#6e6e6e" stroke-width="1"/>
<text transform="translate(43.10 286.78) scale(0.85 1)" font-size="9.4" text-anchor="end" fill="#2a2a2a" stroke="#2a2a2a" stroke-width="0.3">1.00</text>
<line x1="46.0" y1="303.72" x2="47.6" y2="303.72" stroke="#6e6e6e" stroke-width="1"/>
<line x1="189.6" y1="303.72" x2="188.0" y2="303.72" stroke="#6e6e6e" stroke-width="1"/>
<text transform="translate(43.10 307.50) scale(0.85 1)" font-size="9.4" text-anchor="end" fill="#2a2a2a" stroke="#2a2a2a" stroke-width="0.3">0.95</text>
<line x1="46.0" y1="324.44" x2="47.6" y2="324.44" stroke="#6e6e6e" stroke-width="1"/>
<line x1="189.6" y1="324.44" x2="188.0" y2="324.44" stroke="#6e6e6e" stroke-width="1"/>
<text transform="translate(43.10 328.22) scale(0.85 1)" font-size="9.4" text-anchor="end" fill="#2a2a2a" stroke="#2a2a2a" stroke-width="0.3">0.90</text>
<line x1="46.0" y1="345.16" x2="47.6" y2="345.16" stroke="#6e6e6e" stroke-width="1"/>
<line x1="189.6" y1="345.16" x2="188.0" y2="345.16" stroke="#6e6e6e" stroke-width="1"/>
<text transform="translate(43.10 348.94) scale(0.85 1)" font-size="9.4" text-anchor="end" fill="#2a2a2a" stroke="#2a2a2a" stroke-width="0.3">0.85</text>
<text transform="translate(46.00 365.58) scale(0.85 1)" font-size="9.4" text-anchor="middle" fill="#2a2a2a" stroke="#2a2a2a" stroke-width="0.3">-3</text>
<text transform="translate(69.93 365.58) scale(0.85 1)" font-size="9.4" text-anchor="middle" fill="#2a2a2a" stroke="#2a2a2a" stroke-width="0.3">-2</text>
<text transform="translate(93.87 365.58) scale(0.85 1)" font-size="9.4" text-anchor="middle" fill="#2a2a2a" stroke="#2a2a2a" stroke-width="0.3">-1</text>
<text transform="translate(117.80 365.58) scale(0.85 1)" font-size="9.4" text-anchor="middle" fill="#2a2a2a" stroke="#2a2a2a" stroke-width="0.3">0</text>
<text transform="translate(141.73 365.58) scale(0.85 1)" font-size="9.4" text-anchor="middle" fill="#2a2a2a" stroke="#2a2a2a" stroke-width="0.3">1</text>
<text transform="translate(165.67 365.58) scale(0.85 1)" font-size="9.4" text-anchor="middle" fill="#2a2a2a" stroke="#2a2a2a" stroke-width="0.3">2</text>
<text transform="translate(189.60 365.58) scale(0.85 1)" font-size="9.4" text-anchor="middle" fill="#2a2a2a" stroke="#2a2a2a" stroke-width="0.3">3</text>
<text x="23.0" y="297.65" font-size="10.9" text-anchor="middle" font-weight="normal" fill="#000" stroke="#000" stroke-width="0.15" transform="rotate(-90 23.0 297.65)">Normalised composite</text>
<text x="9.4" y="297.65" font-size="10.9" text-anchor="middle" font-weight="normal" fill="#000" stroke="#000" stroke-width="0.15" transform="rotate(-90 9.4 297.65)">Non-CER</text>
<text x="34.0" y="229.0" font-size="10.5" text-anchor="start" font-weight="bold" fill="#000">d</text>
<text x="117.8" y="378.5" font-size="10.0" text-anchor="middle" font-weight="normal" fill="#000" stroke="#000" stroke-width="0.15">Year from event</text>
<rect x="54.6" y="386.3" width="127.40" height="59.00" fill="#fff" stroke="#555" stroke-width="1.1"/>
<line x1="57.2" y1="394.60" x2="83.6" y2="394.60" stroke="#ff5c5c" stroke-width="1.2"/>
<circle cx="70.4" cy="394.60" r="2.2" fill="#ff1a1a" stroke="#d00000" stroke-width="0.4"/>
<text x="85.8" y="398.3" font-size="10.8" text-anchor="start" font-weight="normal" fill="#000" stroke="#000" stroke-width="0.15">-3.9% (***, n = 28)</text>
<line x1="57.2" y1="408.80" x2="83.6" y2="408.80" stroke="#ffb47c" stroke-width="2.0"/>
<circle cx="70.4" cy="408.80" r="2.2" fill="#ff7a10" stroke="#e05800" stroke-width="0.4"/>
<text x="85.8" y="412.5" font-size="10.8" text-anchor="start" font-weight="normal" fill="#000" stroke="#000" stroke-width="0.15">-3.9% (***, n = 47)</text>
<line x1="57.2" y1="423.00" x2="83.6" y2="423.00" stroke="#90e2e2" stroke-width="2.0"/>
<circle cx="70.4" cy="423.00" r="2.2" fill="#22c4c4" stroke="#12a0a0" stroke-width="0.4"/>
<text x="85.8" y="426.7" font-size="10.8" text-anchor="start" font-weight="normal" fill="#000" stroke="#000" stroke-width="0.15">-2.1% (***, n = 141)</text>
<line x1="57.2" y1="437.20" x2="83.6" y2="437.20" stroke="#a4a4a4" stroke-width="1.2"/>
<circle cx="70.4" cy="437.20" r="1.9" fill="#6e6e6e" stroke="#454545" stroke-width="0.4"/>
<text x="85.8" y="440.90000000000003" font-size="10.8" text-anchor="start" font-weight="normal" fill="#000" stroke="#000" stroke-width="0.15">-4.1% (***, n = 60)</text>
<rect x="236.0" y="241.8" width="143.80" height="111.70" fill="none" stroke="#6e6e6e" stroke-width="1.2" stroke-linejoin="round"/>
<line x1="259.97" y1="241.8" x2="259.97" y2="243.4" stroke="#6e6e6e" stroke-width="1"/>
<line x1="259.97" y1="353.5" x2="259.97" y2="351.9" stroke="#6e6e6e" stroke-width="1"/>
<line x1="283.93" y1="241.8" x2="283.93" y2="243.4" stroke="#6e6e6e" stroke-width="1"/>
<line x1="283.93" y1="353.5" x2="283.93" y2="351.9" stroke="#6e6e6e" stroke-width="1"/>
<line x1="307.90" y1="241.8" x2="307.90" y2="243.4" stroke="#6e6e6e" stroke-width="1"/>
<line x1="307.90" y1="353.5" x2="307.90" y2="351.9" stroke="#6e6e6e" stroke-width="1"/>
<line x1="331.87" y1="241.8" x2="331.87" y2="243.4" stroke="#6e6e6e" stroke-width="1"/>
<line x1="331.87" y1="353.5" x2="331.87" y2="351.9" stroke="#6e6e6e" stroke-width="1"/>
<line x1="355.83" y1="241.8" x2="355.83" y2="243.4" stroke="#6e6e6e" stroke-width="1"/>
<line x1="355.83" y1="353.5" x2="355.83" y2="351.9" stroke="#6e6e6e" stroke-width="1"/>
<line x1="236.0" y1="283.00" x2="379.8" y2="283.00" stroke="#383838" stroke-width="1.2" stroke-dasharray="4.5 4.1"/>
<line x1="307.90" y1="241.8" x2="307.90" y2="353.5" stroke="#848484" stroke-width="1.5"/>
<polyline points="236.00,282.8 259.97,281.0 283.93,280.0 307.90,299.2 331.87,291.5 355.83,287.7 379.80,275.2" fill="none" stroke="#ff4a4a" stroke-width="1.0" stroke-linejoin="round"/>
<polyline points="236.00,281.5 259.97,287.0 283.93,285.9 307.90,296.0 331.87,280.7 355.83,283.5 379.80,284.2" fill="none" stroke="#ff9438" stroke-width="1.15" stroke-linejoin="round"/>
<polyline points="236.00,280.3 259.97,283.4 283.93,283.1 307.90,284.2 331.87,284.9 355.83,282.1 379.80,280.7" fill="none" stroke="#40cccc" stroke-width="1.0" stroke-linejoin="round"/>
<polyline points="236.00,278.5 259.97,290.0 283.93,286.6 307.90,293.3 331.87,284.2 355.83,287.0 379.80,282.0" fill="none" stroke="#8c8c8c" stroke-width="0.9" stroke-linejoin="round"/>
<circle cx="236.00" cy="282.8" r="2.0" fill="#ff1a1a" stroke="#d00000" stroke-width="0.5"/>
<circle cx="259.97" cy="281.0" r="2.0" fill="#ff1a1a" stroke="#d00000" stroke-width="0.5"/>
<circle cx="283.93" cy="280.0" r="2.0" fill="#ff1a1a" stroke="#d00000" stroke-width="0.5"/>
<circle cx="307.90" cy="299.2" r="2.0" fill="#ff1a1a" stroke="#d00000" stroke-width="0.5"/>
<circle cx="331.87" cy="291.5" r="2.0" fill="#ff1a1a" stroke="#d00000" stroke-width="0.5"/>
<circle cx="355.83" cy="287.7" r="2.0" fill="#ff1a1a" stroke="#d00000" stroke-width="0.5"/>
<circle cx="379.80" cy="275.2" r="2.0" fill="#ff1a1a" stroke="#d00000" stroke-width="0.5"/>
<circle cx="236.00" cy="281.5" r="2.0" fill="#ff7a10" stroke="#e05800" stroke-width="0.5"/>
<circle cx="259.97" cy="287.0" r="2.0" fill="#ff7a10" stroke="#e05800" stroke-width="0.5"/>
<circle cx="283.93" cy="285.9" r="2.0" fill="#ff7a10" stroke="#e05800" stroke-width="0.5"/>
<circle cx="307.90" cy="296.0" r="2.0" fill="#ff7a10" stroke="#e05800" stroke-width="0.5"/>
<circle cx="331.87" cy="280.7" r="2.0" fill="#ff7a10" stroke="#e05800" stroke-width="0.5"/>
<circle cx="355.83" cy="283.5" r="2.0" fill="#ff7a10" stroke="#e05800" stroke-width="0.5"/>
<circle cx="379.80" cy="284.2" r="2.0" fill="#ff7a10" stroke="#e05800" stroke-width="0.5"/>
<circle cx="236.00" cy="280.3" r="2.0" fill="#22c4c4" stroke="#12a0a0" stroke-width="0.5"/>
<circle cx="259.97" cy="283.4" r="2.0" fill="#22c4c4" stroke="#12a0a0" stroke-width="0.5"/>
<circle cx="283.93" cy="283.1" r="2.0" fill="#22c4c4" stroke="#12a0a0" stroke-width="0.5"/>
<circle cx="307.90" cy="284.2" r="2.0" fill="#22c4c4" stroke="#12a0a0" stroke-width="0.5"/>
<circle cx="331.87" cy="284.9" r="2.0" fill="#22c4c4" stroke="#12a0a0" stroke-width="0.5"/>
<circle cx="355.83" cy="282.1" r="2.0" fill="#22c4c4" stroke="#12a0a0" stroke-width="0.5"/>
<circle cx="379.80" cy="280.7" r="2.0" fill="#22c4c4" stroke="#12a0a0" stroke-width="0.5"/>
<circle cx="236.00" cy="278.5" r="2.0" fill="#6e6e6e" stroke="#454545" stroke-width="0.5"/>
<circle cx="259.97" cy="290.0" r="2.0" fill="#6e6e6e" stroke="#454545" stroke-width="0.5"/>
<circle cx="283.93" cy="286.6" r="2.0" fill="#6e6e6e" stroke="#454545" stroke-width="0.5"/>
<circle cx="307.90" cy="293.3" r="2.0" fill="#6e6e6e" stroke="#454545" stroke-width="0.5"/>
<circle cx="331.87" cy="284.2" r="2.0" fill="#6e6e6e" stroke="#454545" stroke-width="0.5"/>
<circle cx="355.83" cy="287.0" r="2.0" fill="#6e6e6e" stroke="#454545" stroke-width="0.5"/>
<circle cx="379.80" cy="282.0" r="2.0" fill="#6e6e6e" stroke="#454545" stroke-width="0.5"/>
<line x1="307.90" y1="241.8" x2="307.90" y2="353.5" stroke="#404040" stroke-width="1.0" opacity="0.3"/>
<line x1="305.60" y1="256.1" x2="310.20" y2="256.1" stroke="#22c4c4" stroke-width="1.4" opacity="0.75"/>
<line x1="307.90" y1="254.50000000000003" x2="307.90" y2="257.70000000000005" stroke="#22c4c4" stroke-width="1.3" opacity="0.6"/>
<line x1="305.60" y1="259.9" x2="310.20" y2="259.9" stroke="#ff1a1a" stroke-width="1.4" opacity="0.75"/>
<line x1="307.90" y1="258.29999999999995" x2="307.90" y2="261.5" stroke="#ff1a1a" stroke-width="1.3" opacity="0.6"/>
<line x1="305.60" y1="264.7" x2="310.20" y2="264.7" stroke="#ff7a10" stroke-width="1.4" opacity="0.75"/>
<line x1="307.90" y1="263.09999999999997" x2="307.90" y2="266.3" stroke="#ff7a10" stroke-width="1.3" opacity="0.6"/>
<line x1="305.60" y1="315.6" x2="310.20" y2="315.6" stroke="#22c4c4" stroke-width="1.4" opacity="0.75"/>
<line x1="307.90" y1="314.0" x2="307.90" y2="317.20000000000005" stroke="#22c4c4" stroke-width="1.3" opacity="0.6"/>
<line x1="305.60" y1="329.9" x2="310.20" y2="329.9" stroke="#b4b4b4" stroke-width="1.4" opacity="0.75"/>
<line x1="307.90" y1="328.29999999999995" x2="307.90" y2="331.5" stroke="#b4b4b4" stroke-width="1.3" opacity="0.6"/>
<line x1="305.60" y1="332.6" x2="310.20" y2="332.6" stroke="#ff7a10" stroke-width="1.4" opacity="0.75"/>
<line x1="307.90" y1="331.0" x2="307.90" y2="334.20000000000005" stroke="#ff7a10" stroke-width="1.3" opacity="0.6"/>
<line x1="305.60" y1="338.1" x2="310.20" y2="338.1" stroke="#ff1a1a" stroke-width="1.4" opacity="0.75"/>
<line x1="307.90" y1="336.5" x2="307.90" y2="339.70000000000005" stroke="#ff1a1a" stroke-width="1.3" opacity="0.6"/>
<text transform="translate(233.10 245.34) scale(0.85 1)" font-size="9.4" text-anchor="end" fill="#2a2a2a" stroke="#2a2a2a" stroke-width="0.3">1.10</text>
<line x1="236.0" y1="262.28" x2="237.6" y2="262.28" stroke="#6e6e6e" stroke-width="1"/>
<line x1="379.8" y1="262.28" x2="378.2" y2="262.28" stroke="#6e6e6e" stroke-width="1"/>
<text transform="translate(233.10 266.06) scale(0.85 1)" font-size="9.4" text-anchor="end" fill="#2a2a2a" stroke="#2a2a2a" stroke-width="0.3">1.05</text>
<line x1="236.0" y1="283.00" x2="237.6" y2="283.00" stroke="#6e6e6e" stroke-width="1"/>
<line x1="379.8" y1="283.00" x2="378.2" y2="283.00" stroke="#6e6e6e" stroke-width="1"/>
<text transform="translate(233.10 286.78) scale(0.85 1)" font-size="9.4" text-anchor="end" fill="#2a2a2a" stroke="#2a2a2a" stroke-width="0.3">1.00</text>
<line x1="236.0" y1="303.72" x2="237.6" y2="303.72" stroke="#6e6e6e" stroke-width="1"/>
<line x1="379.8" y1="303.72" x2="378.2" y2="303.72" stroke="#6e6e6e" stroke-width="1"/>
<text transform="translate(233.10 307.50) scale(0.85 1)" font-size="9.4" text-anchor="end" fill="#2a2a2a" stroke="#2a2a2a" stroke-width="0.3">0.95</text>
<line x1="236.0" y1="324.44" x2="237.6" y2="324.44" stroke="#6e6e6e" stroke-width="1"/>
<line x1="379.8" y1="324.44" x2="378.2" y2="324.44" stroke="#6e6e6e" stroke-width="1"/>
<text transform="translate(233.10 328.22) scale(0.85 1)" font-size="9.4" text-anchor="end" fill="#2a2a2a" stroke="#2a2a2a" stroke-width="0.3">0.90</text>
<line x1="236.0" y1="345.16" x2="237.6" y2="345.16" stroke="#6e6e6e" stroke-width="1"/>
<line x1="379.8" y1="345.16" x2="378.2" y2="345.16" stroke="#6e6e6e" stroke-width="1"/>
<text transform="translate(233.10 348.94) scale(0.85 1)" font-size="9.4" text-anchor="end" fill="#2a2a2a" stroke="#2a2a2a" stroke-width="0.3">0.85</text>
<text transform="translate(236.00 365.58) scale(0.85 1)" font-size="9.4" text-anchor="middle" fill="#2a2a2a" stroke="#2a2a2a" stroke-width="0.3">-3</text>
<text transform="translate(259.97 365.58) scale(0.85 1)" font-size="9.4" text-anchor="middle" fill="#2a2a2a" stroke="#2a2a2a" stroke-width="0.3">-2</text>
<text transform="translate(283.93 365.58) scale(0.85 1)" font-size="9.4" text-anchor="middle" fill="#2a2a2a" stroke="#2a2a2a" stroke-width="0.3">-1</text>
<text transform="translate(307.90 365.58) scale(0.85 1)" font-size="9.4" text-anchor="middle" fill="#2a2a2a" stroke="#2a2a2a" stroke-width="0.3">0</text>
<text transform="translate(331.87 365.58) scale(0.85 1)" font-size="9.4" text-anchor="middle" fill="#2a2a2a" stroke="#2a2a2a" stroke-width="0.3">1</text>
<text transform="translate(355.83 365.58) scale(0.85 1)" font-size="9.4" text-anchor="middle" fill="#2a2a2a" stroke="#2a2a2a" stroke-width="0.3">2</text>
<text transform="translate(379.80 365.58) scale(0.85 1)" font-size="9.4" text-anchor="middle" fill="#2a2a2a" stroke="#2a2a2a" stroke-width="0.3">3</text>
<text x="224.0" y="229.0" font-size="10.5" text-anchor="start" font-weight="bold" fill="#000">e</text>
<text x="307.9" y="378.5" font-size="10.0" text-anchor="middle" font-weight="normal" fill="#000" stroke="#000" stroke-width="0.15">Year from event</text>
<rect x="247.3" y="386.0" width="121.30" height="59.20" fill="#fff" stroke="#555" stroke-width="1.1"/>
<line x1="249.9" y1="394.30" x2="276.3" y2="394.30" stroke="#ff5c5c" stroke-width="1.2"/>
<circle cx="263.1" cy="394.30" r="2.2" fill="#ff1a1a" stroke="#d00000" stroke-width="0.4"/>
<text x="278.5" y="398.0" font-size="10.8" text-anchor="start" font-weight="normal" fill="#000" stroke="#000" stroke-width="0.15">-3.8% (***, n = 28)</text>
<line x1="249.9" y1="408.50" x2="276.3" y2="408.50" stroke="#ffb47c" stroke-width="2.0"/>
<circle cx="263.1" cy="408.50" r="2.2" fill="#ff7a10" stroke="#e05800" stroke-width="0.4"/>
<text x="278.5" y="412.2" font-size="10.8" text-anchor="start" font-weight="normal" fill="#000" stroke="#000" stroke-width="0.15">-3.1% (***, n = 47)</text>
<line x1="249.9" y1="422.70" x2="276.3" y2="422.70" stroke="#90e2e2" stroke-width="2.0"/>
<circle cx="263.1" cy="422.70" r="2.2" fill="#22c4c4" stroke="#12a0a0" stroke-width="0.4"/>
<text x="278.5" y="426.4" font-size="10.8" text-anchor="start" font-weight="normal" fill="#000" stroke="#000" stroke-width="0.15">-0.4% (*, n = 141)</text>
<line x1="249.9" y1="436.90" x2="276.3" y2="436.90" stroke="#a4a4a4" stroke-width="1.2"/>
<circle cx="263.1" cy="436.90" r="1.9" fill="#6e6e6e" stroke="#454545" stroke-width="0.4"/>
<text x="278.5" y="440.59999999999997" font-size="10.8" text-anchor="start" font-weight="normal" fill="#000" stroke="#000" stroke-width="0.15">-2.6% (***, n = 60)</text>
<rect x="426.0" y="241.8" width="143.60" height="111.70" fill="none" stroke="#6e6e6e" stroke-width="1.2" stroke-linejoin="round"/>
<line x1="449.93" y1="241.8" x2="449.93" y2="243.4" stroke="#6e6e6e" stroke-width="1"/>
<line x1="449.93" y1="353.5" x2="449.93" y2="351.9" stroke="#6e6e6e" stroke-width="1"/>
<line x1="473.87" y1="241.8" x2="473.87" y2="243.4" stroke="#6e6e6e" stroke-width="1"/>
<line x1="473.87" y1="353.5" x2="473.87" y2="351.9" stroke="#6e6e6e" stroke-width="1"/>
<line x1="497.80" y1="241.8" x2="497.80" y2="243.4" stroke="#6e6e6e" stroke-width="1"/>
<line x1="497.80" y1="353.5" x2="497.80" y2="351.9" stroke="#6e6e6e" stroke-width="1"/>
<line x1="521.73" y1="241.8" x2="521.73" y2="243.4" stroke="#6e6e6e" stroke-width="1"/>
<line x1="521.73" y1="353.5" x2="521.73" y2="351.9" stroke="#6e6e6e" stroke-width="1"/>
<line x1="545.67" y1="241.8" x2="545.67" y2="243.4" stroke="#6e6e6e" stroke-width="1"/>
<line x1="545.67" y1="353.5" x2="545.67" y2="351.9" stroke="#6e6e6e" stroke-width="1"/>
<line x1="426.0" y1="283.00" x2="569.6" y2="283.00" stroke="#383838" stroke-width="1.2" stroke-dasharray="4.5 4.1"/>
<line x1="497.80" y1="241.8" x2="497.80" y2="353.5" stroke="#848484" stroke-width="1.5"/>
<polyline points="426.00,274.8 449.93,288.4 473.87,285.6 497.80,284.5 521.73,284.9 545.67,284.0 569.60,277.3" fill="none" stroke="#ff4a4a" stroke-width="1.0" stroke-linejoin="round"/>
<polyline points="426.00,272.0 449.93,286.0 473.87,285.3 497.80,286.3 521.73,295.1 545.67,286.3 569.60,268.9" fill="none" stroke="#ff9438" stroke-width="1.15" stroke-linejoin="round"/>
<polyline points="426.00,264.0 449.93,284.5 473.87,292.6 497.80,290.5 521.73,285.6 545.67,283.5 569.60,265.4" fill="none" stroke="#40cccc" stroke-width="1.0" stroke-linejoin="round"/>
<polyline points="426.00,267.5 449.93,283.9 473.87,290.9 497.80,290.5 521.73,289.1 545.67,286.3 569.60,267.0" fill="none" stroke="#8c8c8c" stroke-width="0.9" stroke-linejoin="round"/>
<circle cx="426.00" cy="274.8" r="2.0" fill="#ff1a1a" stroke="#d00000" stroke-width="0.5"/>
<circle cx="449.93" cy="288.4" r="2.0" fill="#ff1a1a" stroke="#d00000" stroke-width="0.5"/>
<circle cx="473.87" cy="285.6" r="2.0" fill="#ff1a1a" stroke="#d00000" stroke-width="0.5"/>
<circle cx="497.80" cy="284.5" r="2.0" fill="#ff1a1a" stroke="#d00000" stroke-width="0.5"/>
<circle cx="521.73" cy="284.9" r="2.0" fill="#ff1a1a" stroke="#d00000" stroke-width="0.5"/>
<circle cx="545.67" cy="284.0" r="2.0" fill="#ff1a1a" stroke="#d00000" stroke-width="0.5"/>
<circle cx="569.60" cy="277.3" r="2.0" fill="#ff1a1a" stroke="#d00000" stroke-width="0.5"/>
<circle cx="426.00" cy="272.0" r="2.0" fill="#ff7a10" stroke="#e05800" stroke-width="0.5"/>
<circle cx="449.93" cy="286.0" r="2.0" fill="#ff7a10" stroke="#e05800" stroke-width="0.5"/>
<circle cx="473.87" cy="285.3" r="2.0" fill="#ff7a10" stroke="#e05800" stroke-width="0.5"/>
<circle cx="497.80" cy="286.3" r="2.0" fill="#ff7a10" stroke="#e05800" stroke-width="0.5"/>
<circle cx="521.73" cy="295.1" r="2.0" fill="#ff7a10" stroke="#e05800" stroke-width="0.5"/>
<circle cx="545.67" cy="286.3" r="2.0" fill="#ff7a10" stroke="#e05800" stroke-width="0.5"/>
<circle cx="569.60" cy="268.9" r="2.0" fill="#ff7a10" stroke="#e05800" stroke-width="0.5"/>
<circle cx="426.00" cy="264.0" r="2.0" fill="#22c4c4" stroke="#12a0a0" stroke-width="0.5"/>
<circle cx="449.93" cy="284.5" r="2.0" fill="#22c4c4" stroke="#12a0a0" stroke-width="0.5"/>
<circle cx="473.87" cy="292.6" r="2.0" fill="#22c4c4" stroke="#12a0a0" stroke-width="0.5"/>
<circle cx="497.80" cy="290.5" r="2.0" fill="#22c4c4" stroke="#12a0a0" stroke-width="0.5"/>
<circle cx="521.73" cy="285.6" r="2.0" fill="#22c4c4" stroke="#12a0a0" stroke-width="0.5"/>
<circle cx="545.67" cy="283.5" r="2.0" fill="#22c4c4" stroke="#12a0a0" stroke-width="0.5"/>
<circle cx="569.60" cy="265.4" r="2.0" fill="#22c4c4" stroke="#12a0a0" stroke-width="0.5"/>
<circle cx="426.00" cy="267.5" r="2.0" fill="#6e6e6e" stroke="#454545" stroke-width="0.5"/>
<circle cx="449.93" cy="283.9" r="2.0" fill="#6e6e6e" stroke="#454545" stroke-width="0.5"/>
<circle cx="473.87" cy="290.9" r="2.0" fill="#6e6e6e" stroke="#454545" stroke-width="0.5"/>
<circle cx="497.80" cy="290.5" r="2.0" fill="#6e6e6e" stroke="#454545" stroke-width="0.5"/>
<circle cx="521.73" cy="289.1" r="2.0" fill="#6e6e6e" stroke="#454545" stroke-width="0.5"/>
<circle cx="545.67" cy="286.3" r="2.0" fill="#6e6e6e" stroke="#454545" stroke-width="0.5"/>
<circle cx="569.60" cy="267.0" r="2.0" fill="#6e6e6e" stroke="#454545" stroke-width="0.5"/>
<line x1="497.80" y1="241.8" x2="497.80" y2="353.5" stroke="#404040" stroke-width="1.0" opacity="0.3"/>
<line x1="495.50" y1="256.3" x2="500.10" y2="256.3" stroke="#b4b4b4" stroke-width="1.4" opacity="0.75"/>
<line x1="497.80" y1="254.70000000000002" x2="497.80" y2="257.90000000000003" stroke="#b4b4b4" stroke-width="1.3" opacity="0.6"/>
<line x1="495.50" y1="259.3" x2="500.10" y2="259.3" stroke="#ff1a1a" stroke-width="1.4" opacity="0.75"/>
<line x1="497.80" y1="257.7" x2="497.80" y2="260.90000000000003" stroke="#ff1a1a" stroke-width="1.3" opacity="0.6"/>
<line x1="495.50" y1="259.6" x2="500.10" y2="259.6" stroke="#ff7a10" stroke-width="1.4" opacity="0.75"/>
<line x1="497.80" y1="258.0" x2="497.80" y2="261.20000000000005" stroke="#ff7a10" stroke-width="1.3" opacity="0.6"/>
<line x1="495.50" y1="261.8" x2="500.10" y2="261.8" stroke="#22c4c4" stroke-width="1.4" opacity="0.75"/>
<line x1="497.80" y1="260.2" x2="497.80" y2="263.40000000000003" stroke="#22c4c4" stroke-width="1.3" opacity="0.6"/>
<line x1="495.50" y1="318.2" x2="500.10" y2="318.2" stroke="#ff7a10" stroke-width="1.4" opacity="0.75"/>
<line x1="497.80" y1="316.59999999999997" x2="497.80" y2="319.8" stroke="#ff7a10" stroke-width="1.3" opacity="0.6"/>
<line x1="495.50" y1="321.0" x2="500.10" y2="321.0" stroke="#22c4c4" stroke-width="1.4" opacity="0.75"/>
<line x1="497.80" y1="319.4" x2="497.80" y2="322.6" stroke="#22c4c4" stroke-width="1.3" opacity="0.6"/>
<line x1="495.50" y1="326.1" x2="500.10" y2="326.1" stroke="#b4b4b4" stroke-width="1.4" opacity="0.75"/>
<line x1="497.80" y1="324.5" x2="497.80" y2="327.70000000000005" stroke="#b4b4b4" stroke-width="1.3" opacity="0.6"/>
<text transform="translate(423.10 245.34) scale(0.85 1)" font-size="9.4" text-anchor="end" fill="#2a2a2a" stroke="#2a2a2a" stroke-width="0.3">1.10</text>
<line x1="426.0" y1="262.28" x2="427.6" y2="262.28" stroke="#6e6e6e" stroke-width="1"/>
<line x1="569.6" y1="262.28" x2="568.0" y2="262.28" stroke="#6e6e6e" stroke-width="1"/>
<text transform="translate(423.10 266.06) scale(0.85 1)" font-size="9.4" text-anchor="end" fill="#2a2a2a" stroke="#2a2a2a" stroke-width="0.3">1.05</text>
<line x1="426.0" y1="283.00" x2="427.6" y2="283.00" stroke="#6e6e6e" stroke-width="1"/>
<line x1="569.6" y1="283.00" x2="568.0" y2="283.00" stroke="#6e6e6e" stroke-width="1"/>
<text transform="translate(423.10 286.78) scale(0.85 1)" font-size="9.4" text-anchor="end" fill="#2a2a2a" stroke="#2a2a2a" stroke-width="0.3">1.00</text>
<line x1="426.0" y1="303.72" x2="427.6" y2="303.72" stroke="#6e6e6e" stroke-width="1"/>
<line x1="569.6" y1="303.72" x2="568.0" y2="303.72" stroke="#6e6e6e" stroke-width="1"/>
<text transform="translate(423.10 307.50) scale(0.85 1)" font-size="9.4" text-anchor="end" fill="#2a2a2a" stroke="#2a2a2a" stroke-width="0.3">0.95</text>
<line x1="426.0" y1="324.44" x2="427.6" y2="324.44" stroke="#6e6e6e" stroke-width="1"/>
<line x1="569.6" y1="324.44" x2="568.0" y2="324.44" stroke="#6e6e6e" stroke-width="1"/>
<text transform="translate(423.10 328.22) scale(0.85 1)" font-size="9.4" text-anchor="end" fill="#2a2a2a" stroke="#2a2a2a" stroke-width="0.3">0.90</text>
<line x1="426.0" y1="345.16" x2="427.6" y2="345.16" stroke="#6e6e6e" stroke-width="1"/>
<line x1="569.6" y1="345.16" x2="568.0" y2="345.16" stroke="#6e6e6e" stroke-width="1"/>
<text transform="translate(423.10 348.94) scale(0.85 1)" font-size="9.4" text-anchor="end" fill="#2a2a2a" stroke="#2a2a2a" stroke-width="0.3">0.85</text>
<text transform="translate(426.00 365.58) scale(0.85 1)" font-size="9.4" text-anchor="middle" fill="#2a2a2a" stroke="#2a2a2a" stroke-width="0.3">-3</text>
<text transform="translate(449.93 365.58) scale(0.85 1)" font-size="9.4" text-anchor="middle" fill="#2a2a2a" stroke="#2a2a2a" stroke-width="0.3">-2</text>
<text transform="translate(473.87 365.58) scale(0.85 1)" font-size="9.4" text-anchor="middle" fill="#2a2a2a" stroke="#2a2a2a" stroke-width="0.3">-1</text>
<text transform="translate(497.80 365.58) scale(0.85 1)" font-size="9.4" text-anchor="middle" fill="#2a2a2a" stroke="#2a2a2a" stroke-width="0.3">0</text>
<text transform="translate(521.73 365.58) scale(0.85 1)" font-size="9.4" text-anchor="middle" fill="#2a2a2a" stroke="#2a2a2a" stroke-width="0.3">1</text>
<text transform="translate(545.67 365.58) scale(0.85 1)" font-size="9.4" text-anchor="middle" fill="#2a2a2a" stroke="#2a2a2a" stroke-width="0.3">2</text>
<text transform="translate(569.60 365.58) scale(0.85 1)" font-size="9.4" text-anchor="middle" fill="#2a2a2a" stroke="#2a2a2a" stroke-width="0.3">3</text>
<text x="414.0" y="229.0" font-size="10.5" text-anchor="start" font-weight="bold" fill="#000">f</text>
<text x="497.8" y="378.5" font-size="10.0" text-anchor="middle" font-weight="normal" fill="#000" stroke="#000" stroke-width="0.15">Year from event</text>
<rect x="434.5" y="386.0" width="126.60" height="59.20" fill="#fff" stroke="#555" stroke-width="1.1"/>
<line x1="437.1" y1="394.30" x2="463.5" y2="394.30" stroke="#ff5c5c" stroke-width="1.2"/>
<circle cx="450.3" cy="394.30" r="2.2" fill="#ff1a1a" stroke="#d00000" stroke-width="0.4"/>
<text x="465.7" y="398.0" font-size="10.8" text-anchor="start" font-weight="normal" fill="#000" stroke="#000" stroke-width="0.15">-0.5% (n.s., n = 28)</text>
<line x1="437.1" y1="408.50" x2="463.5" y2="408.50" stroke="#ffb47c" stroke-width="2.0"/>
<circle cx="450.3" cy="408.50" r="2.2" fill="#ff7a10" stroke="#e05800" stroke-width="0.4"/>
<text x="465.7" y="412.2" font-size="10.8" text-anchor="start" font-weight="normal" fill="#000" stroke="#000" stroke-width="0.15">-0.8% (*, n = 47)</text>
<line x1="437.1" y1="422.70" x2="463.5" y2="422.70" stroke="#90e2e2" stroke-width="2.0"/>
<circle cx="450.3" cy="422.70" r="2.2" fill="#22c4c4" stroke="#12a0a0" stroke-width="0.4"/>
<text x="465.7" y="426.4" font-size="10.8" text-anchor="start" font-weight="normal" fill="#000" stroke="#000" stroke-width="0.15">-1.8% (***, n = 141)</text>
<line x1="437.1" y1="436.90" x2="463.5" y2="436.90" stroke="#a4a4a4" stroke-width="1.2"/>
<circle cx="450.3" cy="436.90" r="1.9" fill="#6e6e6e" stroke="#454545" stroke-width="0.4"/>
<text x="465.7" y="440.59999999999997" font-size="10.8" text-anchor="start" font-weight="normal" fill="#000" stroke="#000" stroke-width="0.15">-1.8% (***, n = 60)</text>
<line x1="154.4" y1="459.2" x2="181.0" y2="459.2" stroke="#ff7272" stroke-width="1.3"/>
<circle cx="167.70" cy="459.2" r="2.0" fill="#ff1a1a"/>
<text x="183.0" y="462.9" font-size="10.8" text-anchor="start" font-weight="normal" fill="#000" stroke="#000" stroke-width="0.15">droughts</text>
<line x1="228.4" y1="459.2" x2="255.0" y2="459.2" stroke="#ffaa66" stroke-width="1.3"/>
<circle cx="241.70" cy="459.2" r="2.0" fill="#ff7a10"/>
<text x="257.0" y="462.9" font-size="10.8" text-anchor="start" font-weight="normal" fill="#000" stroke="#000" stroke-width="0.15">heatwaves</text>
<line x1="311.8" y1="459.2" x2="338.4" y2="459.2" stroke="#66d6d6" stroke-width="1.3"/>
<circle cx="325.10" cy="459.2" r="2.0" fill="#22c4c4"/>
<text x="340.4" y="462.9" font-size="10.8" text-anchor="start" font-weight="normal" fill="#000" stroke="#000" stroke-width="0.15">floods</text>
<line x1="372.4" y1="459.2" x2="399.0" y2="459.2" stroke="#a8a8a8" stroke-width="1.3"/>
<circle cx="385.70" cy="459.2" r="2.0" fill="#6e6e6e"/>
<text x="401.0" y="462.9" font-size="10.8" text-anchor="start" font-weight="normal" fill="#000" stroke="#000" stroke-width="0.15">cold waves</text>
</svg></body></html>
